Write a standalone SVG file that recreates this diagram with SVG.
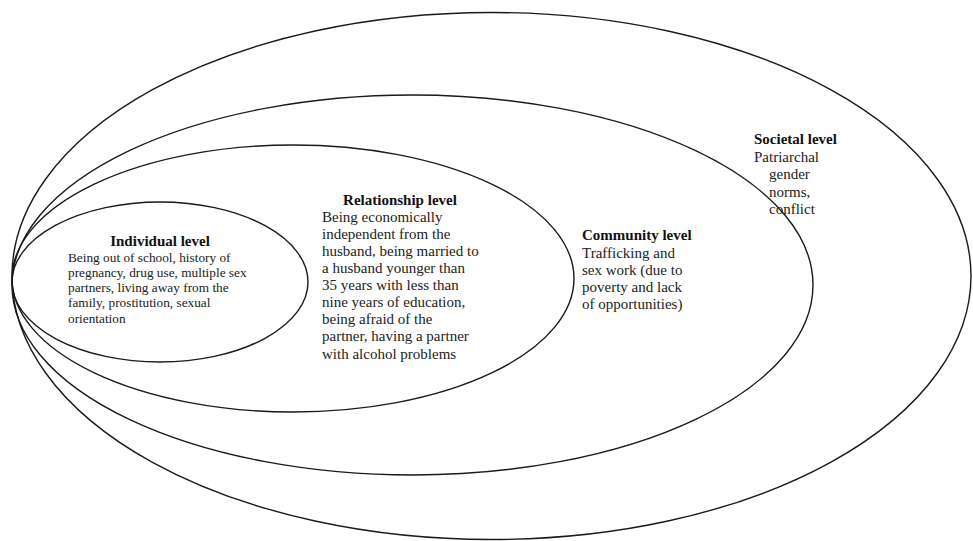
<svg xmlns="http://www.w3.org/2000/svg" width="973" height="541" viewBox="0 0 973 541">
<style>
.ring{fill:none;stroke:#1a1a1a;stroke-width:1.4}
.h{font-family:"Liberation Serif","Times New Roman",serif;font-weight:bold;font-size:15px;fill:#111}
.b{font-family:"Liberation Serif","Times New Roman",serif;font-size:15px;fill:#222}
.bs{font-family:"Liberation Serif","Times New Roman",serif;font-size:13.3px;fill:#222}
</style>
<rect width="973" height="541" fill="#fff"/>
<g id="societal">
<ellipse class="ring" cx="491.5" cy="276" rx="479.5" ry="263.5"/>
<text class="h" x="754" y="144">Societal level</text>
<text class="b" x="754" y="162">Patriarchal</text>
<text class="b" x="769" y="179">gender</text>
<text class="b" x="769" y="197">norms,</text>
<text class="b" x="769" y="214">conflict</text>
</g>
<g id="community">
<ellipse class="ring" cx="412.5" cy="285" rx="400.5" ry="190"/>
<text class="h" x="582" y="240">Community level</text>
<text class="b" x="582" y="258">Trafficking and</text>
<text class="b" x="582" y="275">sex work (due to</text>
<text class="b" x="582" y="292">poverty and lack</text>
<text class="b" x="582" y="309">of opportunities)</text>
</g>
<g id="relationship">
<ellipse class="ring" cx="293" cy="278.5" rx="281" ry="133.5"/>
<text class="h" x="400" y="205" text-anchor="middle">Relationship level</text>
<text class="b" x="322" y="222">Being economically</text>
<text class="b" x="322" y="239">independent from the</text>
<text class="b" x="322" y="256">husband, being married to</text>
<text class="b" x="322" y="273">a husband younger than</text>
<text class="b" x="322" y="290">35 years with less than</text>
<text class="b" x="322" y="307">nine years of education,</text>
<text class="b" x="322" y="324">being afraid of the</text>
<text class="b" x="322" y="341">partner, having a partner</text>
<text class="b" x="322" y="359">with alcohol problems</text>
</g>
<g id="individual">
<ellipse class="ring" cx="160" cy="282" rx="148" ry="80"/>
<text class="h" x="160" y="246" text-anchor="middle">Individual level</text>
<text class="bs" x="68" y="262">Being out of school, history of</text>
<text class="bs" x="68" y="277">pregnancy, drug use, multiple sex</text>
<text class="bs" x="68" y="292">partners, living away from the</text>
<text class="bs" x="68" y="307">family, prostitution, sexual</text>
<text class="bs" x="68" y="323">orientation</text>
</g>
<g id="connectors"/>
</svg>
